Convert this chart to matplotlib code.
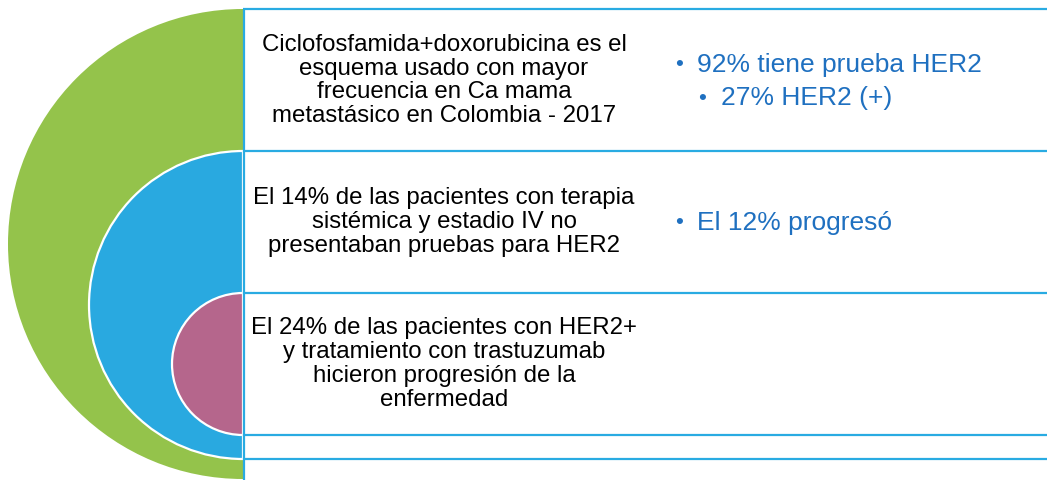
import matplotlib.pyplot as plt
from matplotlib.patches import Wedge

# text content, one entry per row of the diagram
left_texts = [
    "Ciclofosfamida+doxorubicina es el\nesquema usado con mayor\nfrecuencia en Ca mama\nmetastásico en Colombia - 2017",
    "El 14% de las pacientes con terapia\nsistémica y estadio IV no\npresentaban pruebas para HER2",
    "El 24% de las pacientes con HER2+\ny tratamiento con trastuzumab\nhicieron progresión de la\nenfermedad",
]
bullets_row1 = ["92% tiene prueba HER2", "27% HER2 (+)"]
bullets_row2 = ["El 12% progresó"]

circle_colors = ["#94C34B", "#29A9E0", "#B5668C"]
line_color = "#29ABE2"
bullet_color = "#1F70C0"

W, H = 1047, 481
fig = plt.figure(figsize=(W / 100, H / 100), dpi=100)
ax = fig.add_axes([0, 0, 1, 1])
ax.set_xlim(0, W)
ax.set_ylim(H, 0)
ax.axis("off")

# nested half circles: (center y, radius)
cx = 243
circles = [(245, 235), (306, 154), (365, 71)]
for (cy, r), col in zip(circles, circle_colors):
    edge = "none" if col == circle_colors[0] else "white"
    ax.add_patch(Wedge((cx, cy), r, 90, 270, facecolor=col, edgecolor=edge, lw=1.6))

# box lines
for y in [10, 151.5, 294, 436, 460]:
    ax.plot([cx, W], [y, y], color=line_color, lw=1.6, solid_capstyle="butt")
ax.plot([cx + 0.5, cx + 0.5], [10, H], color=line_color, lw=1.6, solid_capstyle="butt")

font = "Liberation Sans"
fs = 17.3
fs_b = 19
row_centers = [80.5, 222, 364]
for txt, yc in zip(left_texts, row_centers):
    ax.text(444, yc, txt, ha="center", va="center", fontsize=fs, family=font,
            linespacing=1.1, color="black")

# bullets on the right
def bullet(xb, xt, y, s):
    ax.text(xb, y, "•", ha="left", va="center", fontsize=fs_b * 0.85, family=font, color=bullet_color)
    ax.text(xt, y, s, ha="left", va="center", fontsize=fs_b, family=font, color=bullet_color)

bullet(675, 697, 65, bullets_row1[0])
bullet(698, 721, 98, bullets_row1[1])
bullet(675, 697, 223, bullets_row2[0])

fig.savefig("out.png", dpi=100)
